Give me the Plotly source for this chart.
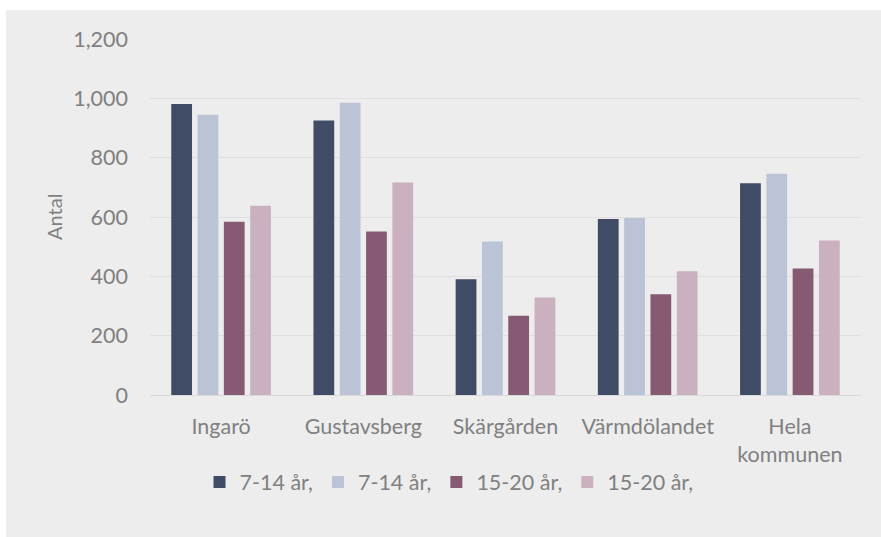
import plotly.graph_objects as go

categories = ["Ingarö", "Gustavsberg", "Skärgården", "Värmdölandet", "Hela<br>kommunen"]
series_names = ["7-14 år,", "7-14 år,", "15-20 år,", "15-20 år,"]
s1 = [981, 925, 390, 593, 714]
s2 = [945, 985, 517, 597, 746]
s3 = [584, 551, 267, 340, 426]
s4 = [638, 716, 329, 417, 521]
y_ticks = [0, 200, 400, 600, 800, 1000, 1200]
y_ticktext = ["0", "200", "400", "600", "800", "1,000", "1,200"]

colors = ["#404c66", "#bac4d6", "#855a72", "#cbb1c0"]
FONT = "Lato"
TXT = "#808080"
FS = 21.5

fig = go.Figure()
for name, vals, c in zip(series_names, [s1, s2, s3, s4], colors):
    fig.add_trace(go.Bar(x=categories, y=vals, name=name, marker_color=c,
                         marker_line_width=0))

W, H = 881, 537
ml, mr, mt, mb = 150, 20, 39, 142
pw, ph = W - ml - mr, H - mt - mb

def px_x(p):
    return (p - ml) / pw

def px_y(p):
    return (H - mb - p) / ph

fig.update_layout(
    width=W, height=H,
    margin=dict(l=ml, r=mr, t=mt, b=mb, pad=0),
    paper_bgcolor="#ededed", plot_bgcolor="#ededed",
    barmode="group", bargap=0.26, bargroupgap=0.21,
    font=dict(family=FONT, color=TXT, size=FS),
    showlegend=True,
    legend=dict(orientation="h", x=px_x(449), xanchor="center",
                y=px_y(482), yanchor="middle", font=dict(size=FS, color=TXT),
                bgcolor="rgba(0,0,0,0)", itemwidth=30, tracegroupgap=0),
    xaxis=dict(showgrid=False, showline=True, linecolor="#d9d9d9", linewidth=1,
               ticks="", tickfont=dict(size=FS, color=TXT), ticklabelstandoff=12),
    yaxis=dict(range=[0, 1200], tickvals=y_ticks, ticktext=y_ticktext,
               showgrid=True, gridcolor="#dfdfdf", gridwidth=1, zeroline=False,
               ticks="", tickfont=dict(size=FS, color=TXT), ticklabelstandoff=21),
    shapes=[
        dict(type="rect", xref="paper", yref="paper", x0=px_x(-5), x1=px_x(6),
             y0=px_y(-5), y1=px_y(W), fillcolor="white", line_width=0, layer="below"),
        dict(type="rect", xref="paper", yref="paper", x0=px_x(-5), x1=px_x(W + 5),
             y0=px_y(-5), y1=px_y(10), fillcolor="white", line_width=0, layer="below"),
    ],
    annotations=[dict(text="Antal", textangle=-90, xref="paper", yref="paper",
                      x=px_x(54), y=px_y(217), showarrow=False,
                      font=dict(size=20, color=TXT), xanchor="center", yanchor="middle")],
)

fig.write_html("out.html", config={"displayModeBar": False},
               post_script="document.body.style.margin='0';")
